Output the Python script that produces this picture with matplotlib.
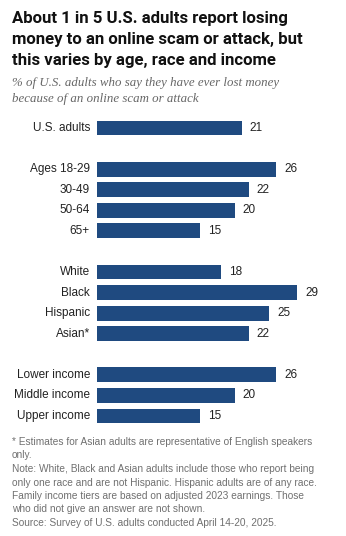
import matplotlib
matplotlib.use("Agg")
import matplotlib.pyplot as plt

# data
labels = ["U.S. adults",
          "Ages 18-29", "30-49", "50-64", "65+",
          "White", "Black", "Hispanic", "Asian*",
          "Lower income", "Middle income", "Upper income"]
values = [21, 26, 22, 20, 15, 18, 29, 25, 22, 26, 20, 15]
rows = [0, 2, 3, 4, 5, 7, 8, 9, 10, 12, 13, 14]

W, H = 346, 536
fig = plt.figure(figsize=(W / 100, H / 100), dpi=100)

def fx(px):
    return px / W

def fy(py):
    return 1 - py / H

bar_color = "#1f4a80"
txt_dark = "#222222"

# axes placed in pixel terms
ax_left, ax_right = 97, 346
ax_top, ax_bot = 110, 430
ax = fig.add_axes([fx(ax_left), fy(ax_bot), fx(ax_right - ax_left), (ax_bot - ax_top) / H])
unit = 20.57
y0 = 128
ax.set_ylim((ax_bot - y0) / unit, (ax_top - y0) / unit)
px_per = 200 / 29
ax.set_xlim(0, (ax_right - ax_left) / px_per)

ax.barh(rows, values, height=0.72, color=bar_color, left=0)
for r, v, lab in zip(rows, values, labels):
    ax.text(v + 8 / px_per, r, str(v), va="center", ha="left",
            fontsize=8.5, color=txt_dark, family="Liberation Sans")
    ax.text(-7 / px_per, r, lab, va="center", ha="right",
            fontsize=8.5, color=txt_dark, family="Liberation Sans")
ax.axis("off")

# title
title = ["About 1 in 5 U.S. adults report losing",
         "money to an online scam or attack, but",
         "this varies by age, race and income"]
for i, line in enumerate(title):
    fig.text(fx(12), fy(19 + i * 20.5), line, fontsize=12.1, fontweight="bold",
             family="Roboto", color="#111111", va="center", ha="left")

sub = ["% of U.S. adults who say they have ever lost money",
       "because of an online scam or attack"]
for i, line in enumerate(sub):
    fig.text(fx(12), fy(83 + i * 16), line, fontsize=9.3, style="italic",
             family="Liberation Serif", color="#666666", va="center", ha="left")

notes = ["* Estimates for Asian adults are representative of English speakers",
         "only.",
         "Note: White, Black and Asian adults include those who report being",
         "only one race and are not Hispanic. Hispanic adults are of any race.",
         "Family income tiers are based on adjusted 2023 earnings. Those",
         "who did not give an answer are not shown.",
         "Source: Survey of U.S. adults conducted April 14-20, 2025."]
for i, line in enumerate(notes):
    fig.text(fx(12), fy(442 + i * 13.5), line, fontsize=7.3,
             family="Liberation Sans", color="#707070", va="center", ha="left")

fig.savefig("out.png", dpi=100, facecolor="white")
